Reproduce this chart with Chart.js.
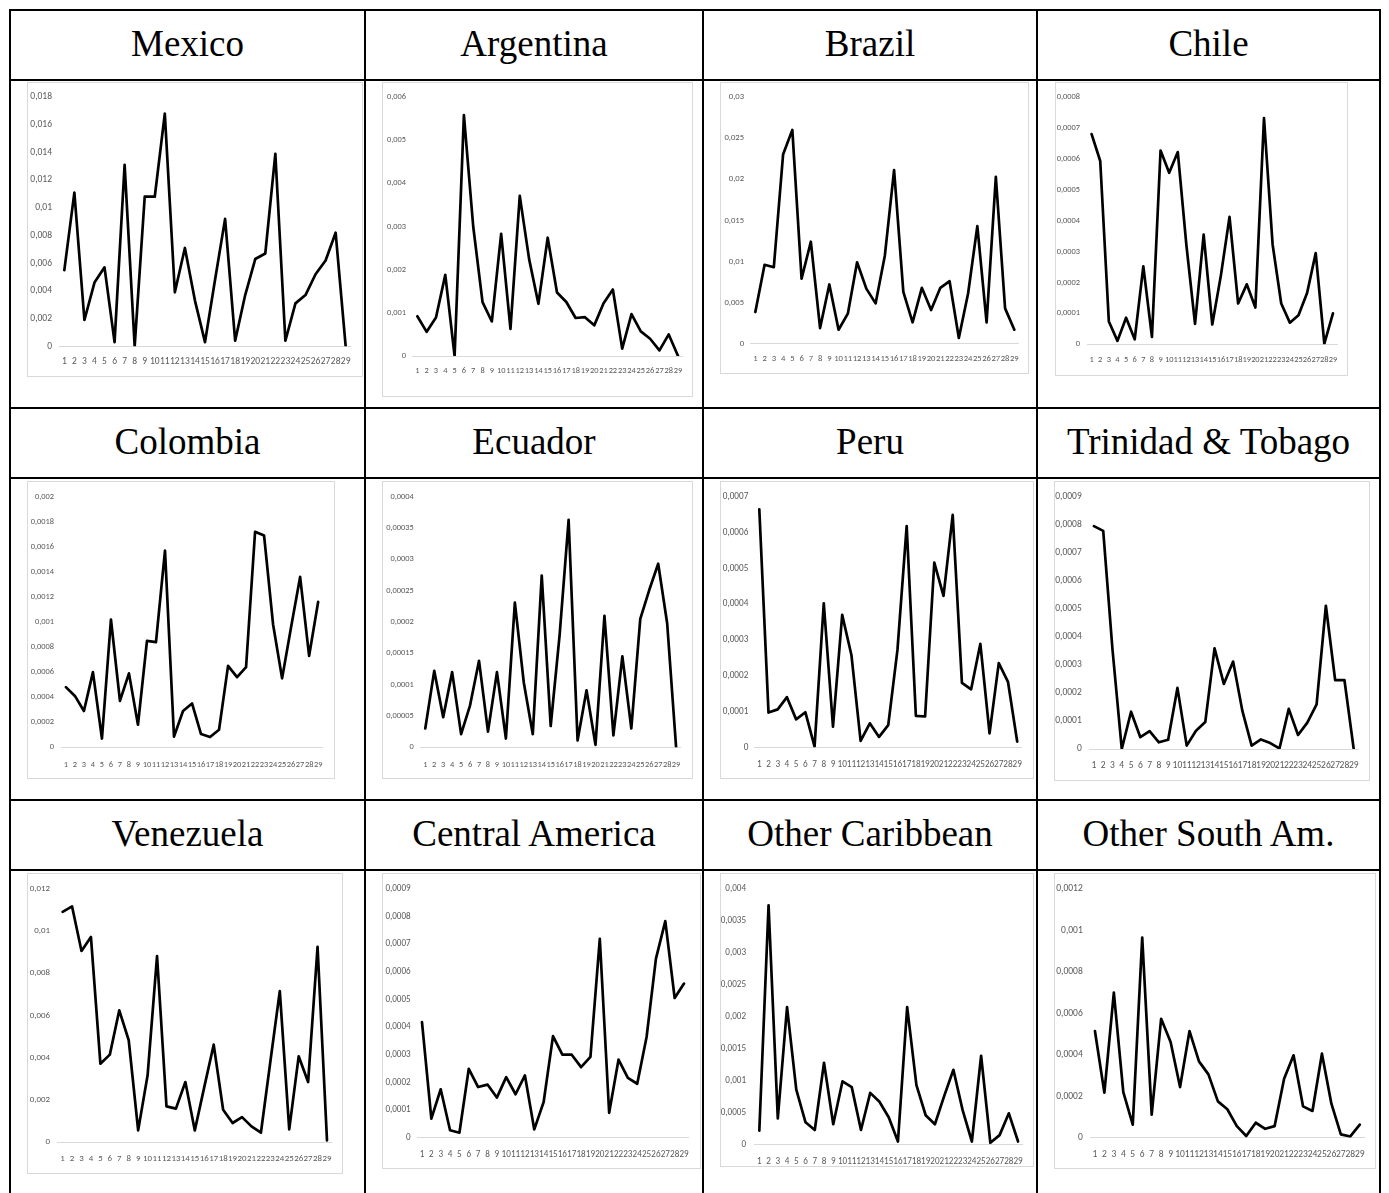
<!DOCTYPE html>
<html><head><meta charset="utf-8">
<script src="https://cdn.jsdelivr.net/npm/chart.js@4.4.1/dist/chart.umd.min.js"></script>
<style>
html,body{margin:0;padding:0;background:#fff;}
#page{position:relative;width:1389px;height:1193px;overflow:hidden;background:#fff;}
.ln{position:absolute;background:#000;}
.title{position:absolute;text-align:center;font-family:'Liberation Serif','Times New Roman',serif;font-size:37px;color:#000;white-space:nowrap;}
.box{position:absolute;border:1px solid #d9d9d9;box-sizing:border-box;}
canvas{position:absolute;}
</style></head><body><div id="page"></div>
<script>
// ---------------- DATA ----------------
const categories = ['1','2','3','4','5','6','7','8','9','10','11','12','13','14','15','16','17','18','19','20','21','22','23','24','25','26','27','28','29'];
const titles = ['Mexico','Argentina','Brazil','Chile','Colombia','Ecuador','Peru','Trinidad & Tobago','Venezuela','Central America','Other Caribbean','Other South Am.'];

const mexico = [0.0055,0.0111,0.0019,0.0046,0.0057,0.0003,0.0131,0.0000,0.0108,0.0108,0.0168,0.0039,0.0071,0.0033,0.0003,0.0048,0.0092,0.0004,0.0037,0.0063,0.0067,0.0139,0.0004,0.0031,0.0037,0.0052,0.0062,0.0082,0.0000];
const argentina = [0.00092,0.00056,0.00089,0.00188,0.00000,0.00558,0.0030,0.00125,0.0008,0.00283,0.00063,0.00371,0.00225,0.00121,0.00274,0.00147,0.00125,0.00088,0.0009,0.00071,0.00122,0.00154,0.00017,0.00097,0.00057,0.0004,0.00013,0.0005,0.0000];
const brazil = [0.00385,0.0096,0.0093,0.0230,0.0260,0.0079,0.0124,0.0019,0.0072,0.0017,0.00365,0.0099,0.0067,0.0049,0.0107,0.0211,0.0063,0.0026,0.0068,0.0041,0.0068,0.0076,0.0007,0.0061,0.0143,0.0026,0.0203,0.0043,0.0017];
const chile = [0.00068,0.000593,0.000074,0.000011,0.000086,0.000016,0.000252,0.000024,0.000627,0.000555,0.000622,0.00032,0.000066,0.000355,0.000064,0.000223,0.000412,0.000132,0.000194,0.000119,0.000732,0.000323,0.000132,0.00007,0.000094,0.000166,0.000295,0.000002,0.0001];
const colombia = [0.00048,0.00041,0.00029,0.0006,0.00007,0.00102,0.00037,0.00059,0.00018,0.00085,0.00084,0.00157,0.000085,0.00029,0.00035,0.000106,0.000082,0.00014,0.00065,0.00056,0.00064,0.00172,0.00169,0.00098,0.00055,0.00096,0.00136,0.00073,0.00116];
const ecuador = [0.00003,0.000122,0.000048,0.00012,0.000021,0.000067,0.000138,0.000025,0.00012,0.000014,0.000231,0.000103,0.000021,0.000274,0.000034,0.00018,0.000363,0.000011,0.000091,0.000004,0.00021,0.000019,0.000145,0.00003,0.000205,0.000251,0.000293,0.000198,0];
const peru = [0.000665,0.000097,0.000106,0.00014,0.000078,0.000098,0.000002,0.000402,0.000058,0.00037,0.000258,0.000018,0.000067,0.000029,0.000062,0.000272,0.000618,0.000088,0.000086,0.000516,0.000423,0.000649,0.00018,0.000162,0.000289,0.000039,0.000235,0.000183,0.000016];
const trinidad = [0.000795,0.000778,0.000355,0,0.000133,0.000042,0.000064,0.000024,0.000033,0.000218,0.000012,0.000065,0.000096,0.000359,0.000232,0.000312,0.000136,0.000012,0.000034,0.000021,0.000002,0.000143,0.00005,0.000094,0.000159,0.000511,0.000246,0.000246,0];
const venezuela = [0.0109,0.01116,0.00905,0.00971,0.00371,0.00414,0.00624,0.00482,0.00055,0.00316,0.00881,0.00169,0.00158,0.00284,0.00055,0.0026,0.00461,0.00153,0.0009,0.00118,0.00074,0.00044,0.0038,0.00715,0.0006,0.00406,0.00284,0.00924,0.00008];
const centralAmerica = [0.000418,0.000069,0.000175,0.000027,0.000018,0.000249,0.000183,0.000192,0.000145,0.000219,0.000157,0.000225,0.00003,0.000129,0.000367,0.0003,0.0003,0.000255,0.000292,0.000719,0.00009,0.000282,0.000216,0.000195,0.000364,0.000647,0.000783,0.000505,0.000557];
const otherCaribbean = [0.00022,0.00374,0.00041,0.00215,0.00086,0.00035,0.00023,0.00128,0.00032,0.00099,0.0009,0.00023,0.00081,0.00067,0.00043,0.00005,0.00215,0.00093,0.00046,0.00032,0.00076,0.00117,0.00054,0.00005,0.00139,0.00003,0.00015,0.00049,0.00005];
const otherSouthAm = [0.000514,0.000217,0.000699,0.00022,0.000063,0.000964,0.000111,0.000573,0.000461,0.000244,0.000514,0.000368,0.000305,0.000175,0.000137,0.000056,0.000008,0.000072,0.000043,0.000056,0.000284,0.000397,0.000151,0.000129,0.000405,0.000164,0.000016,0.000006,0.000063];

const yMax  = [0.018,0.006,0.03,0.0008,0.002,0.0004,0.0007,0.0009,0.012,0.0009,0.004,0.0012];
const yStep = [0.002,0.001,0.005,0.0001,0.0002,0.00005,0.0001,0.0001,0.002,0.0001,0.0005,0.0002];

const series = [mexico,argentina,brazil,chile,colombia,ecuador,peru,trinidad,venezuela,centralAmerica,otherCaribbean,otherSouthAm];

// ---------------- LAYOUT ----------------
const colX = [10,365,703,1037,1380];
const rowY = [10,80,408,478,800,870];
const headRows = [[10,80],[408,478],[800,870]];
// chart boxes [left, top, width, height]
const boxes = [
  [27,82,336,295],[382,82,311,315],[720,82,309,292],[1055,82,293,294],
  [27,481,308,298],[382,481,311,298],[720,481,314,298],[1054,481,316,300],
  [27,873,316,301],[382,873,319,296],[720,873,314,294],[1054,873,322,296]
];
// plot areas [left, top, right, bottom]
const areas = [
  [59.3,97,350.7,346.3],[412.7,97,682.7,356],[750.7,97,1019.3,343.7],[1087.3,97,1339.3,344.3],
  [61.4,496.7,325.6,747.3],[420.8,496.7,682.5,747.3],[754.7,496.7,1024,747.3],[1089.3,496.7,1359.7,749],
  [57.9,888.7,334.8,1142],[417.3,888.7,688.7,1137.7],[754.7,888.7,1024,1144.7],[1090.2,888.7,1369.1,1137.7]
];
const tickSize = [9.5,8.4,8.6,8.4,8.4,8.4,9.2,9.5,8.9,9.1,9.1,9.5];
const xLabOff  = [15.7,15,15.3,15.7,17.5,17.5,17.5,17,16.7,17,16.6,17];
const yLabGap  = [7.3,6.7,6.7,7.3,7.4,7.1,6.4,7.6,7.9,6.6,8.7,7.5];

const page = document.getElementById('page');
function add(cls, css){ const d=document.createElement('div'); d.className=cls; Object.assign(d.style, css); page.appendChild(d); return d; }

// table lines
rowY.forEach(y => add('ln',{left:(colX[0]-1)+'px',top:(y-1)+'px',width:(colX[4]-colX[0]+2)+'px',height:'2px'}));
colX.forEach(x => add('ln',{left:(x-1)+'px',top:(rowY[0]-1)+'px',width:'2px',height:(1200-rowY[0])+'px'}));

// titles
titles.forEach((t,i)=>{
  const c=i%4, r=Math.floor(i/4);
  const [y0,y1]=headRows[r];
  const d=add('title',{left:colX[c]+'px',top:(y0-1)+'px',width:(colX[c+1]-colX[c])+'px',height:(y1-y0)+'px',lineHeight:(y1-y0)+'px'});
  d.textContent=t;
});

const fam = "Carlito, 'Roboto Condensed', 'Liberation Sans', sans-serif";
function fmt(v){ if(v===0) return '0'; return String(parseFloat(Number(v).toPrecision(8))).replace('.',','); }

series.forEach((data,i)=>{
  const [bx,by,bw,bh]=boxes[i];
  const [L,T,R,B]=areas[i];
  const ext = 14;
  const cx = bx-ext, cw = bw+ext;
  const yW = L - cx, xH = by + bh - B;
  const font = {family:fam, size:tickSize[i]};
  add('box',{left:bx+'px',top:by+'px',width:bw+'px',height:bh+'px'});
  const cv=document.createElement('canvas');
  cv.width=cw; cv.height=bh;
  cv.style.left=cx+'px'; cv.style.top=by+'px'; cv.style.width=cw+'px'; cv.style.height=bh+'px';
  page.appendChild(cv);
  new Chart(cv,{
    type:'line',
    data:{labels:categories,datasets:[{data:data,borderColor:'#000',borderWidth:2.7,pointRadius:0,pointHoverRadius:0,tension:0,fill:false,borderJoinStyle:'round',borderCapStyle:'round'}]},
    options:{
      responsive:false,animation:false,devicePixelRatio:1,
      layout:{padding:{left:0,top:T-by,right:bx+bw-R,bottom:0}},
      plugins:{legend:{display:false},tooltip:{enabled:false}},
      events:[],
      scales:{
        x:{offset:true,grid:{display:false,drawTicks:false},border:{display:true,color:'#d9d9d9',width:1},
           ticks:{padding:xLabOff[i]-0.6*tickSize[i],color:'#595959',font:font,maxRotation:0,minRotation:0,autoSkip:false},
           afterFit:s=>{s.height=xH;}},
        y:{min:0,max:yMax[i],grid:{display:false,drawTicks:false},border:{display:false},
           ticks:{stepSize:yStep[i],padding:yLabGap[i],color:'#595959',font:font,callback:v=>fmt(v)},
           afterFit:s=>{s.width=yW;}}
      }
    }
  });
});
</script></body></html>
